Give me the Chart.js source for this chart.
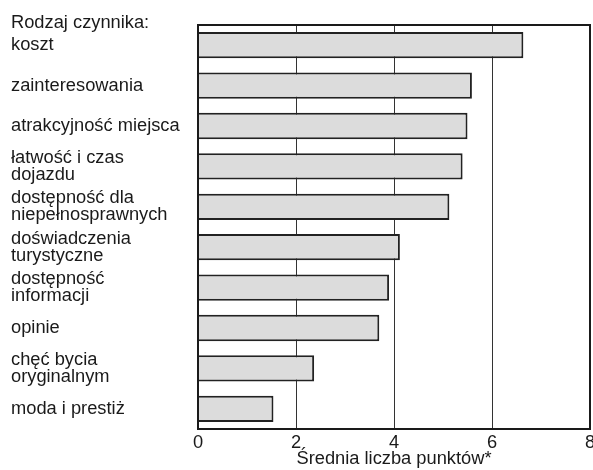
<!DOCTYPE html>
<html>
<head>
<meta charset="utf-8">
<script src="https://cdn.jsdelivr.net/npm/chart.js@4/dist/chart.umd.min.js"></script>
<style>
  html, body { margin: 0; padding: 0; background: #fff; overflow: hidden; }
  #wrap { position: relative; width: 593px; height: 470px; }
</style>
</head>
<body>
<div id="wrap"><canvas id="chart"></canvas></div>
<script>
const categories = [
  'koszt',
  'zainteresowania',
  'atrakcyjność miejsca',
  ['łatwość i czas', 'dojazdu'],
  ['dostępność dla', 'niepełnosprawnych'],
  ['doświadczenia', 'turystyczne'],
  ['dostępność', 'informacji'],
  'opinie',
  ['chęć bycia', 'oryginalnym'],
  'moda i prestiż'
];
const avgPoints = [6.64, 5.59, 5.50, 5.40, 5.13, 4.12, 3.90, 3.70, 2.37, 1.54];
const axisTitle = 'Średnia liczba punktów*';
const headerText = 'Rodzaj czynnika:';

const FONT = '"Liberation Sans", Arial, sans-serif';
const SIZE = 18.3;
const INK = '#1a1a1a';

// box around the plot + the header above the labels
const frame = {
  id: 'frame',
  afterDraw(chart) {
    const { ctx, chartArea } = chart;
    ctx.save();
    ctx.strokeStyle = INK;
    ctx.lineWidth = 2;
    ctx.strokeRect(chartArea.left, chartArea.top, chartArea.right - chartArea.left, chartArea.bottom - chartArea.top);
    ctx.fillStyle = INK;
    ctx.font = SIZE + 'px ' + FONT;
    ctx.textBaseline = 'alphabetic';
    ctx.textAlign = 'left';
    ctx.fillText(headerText, chart.scales.y.left, chartArea.top + 3);
    ctx.restore();
  }
};

new Chart(document.getElementById('chart'), {
  type: 'bar',
  plugins: [frame],
  data: {
    labels: categories,
    datasets: [{
      data: avgPoints,
      backgroundColor: '#dcdcdc',
      borderColor: '#222',
      borderWidth: 2,
      barPercentage: 0.65,
      categoryPercentage: 1
    }]
  },
  options: {
    indexAxis: 'y',
    responsive: true,
    maintainAspectRatio: false,
    animation: false,
    layout: { padding: { left: 11, top: 25, right: 0, bottom: 0 } },
    plugins: {
      legend: { display: false },
      tooltip: { enabled: false }
    },
    scales: {
      x: {
        min: 0,
        max: 8,
        // let the last label "8" run off the right edge like in the original
        afterFit(scale) { scale.paddingRight = 3; },
        ticks: {
          stepSize: 2,
          color: INK,
          padding: 4.35,
          font: { family: FONT, size: SIZE, lineHeight: 1 }
        },
        grid: { color: '#333', lineWidth: 1, drawTicks: false },
        border: { display: true, color: INK, width: 2 },
        title: {
          display: true,
          text: axisTitle,
          color: INK,
          // title sits tight under the tick labels
          padding: { top: -6.3, bottom: 2 },
          font: { family: FONT, size: SIZE, lineHeight: 1 }
        }
      },
      y: {
        afterFit(scale) { scale.width = 187; },
        ticks: {
          autoSkip: false,
          crossAlign: 'far',
          color: INK,
          font: { family: FONT, size: SIZE, lineHeight: 0.92 }
        },
        grid: { display: false },
        border: { display: true, color: INK, width: 2 }
      }
    }
  }
});
</script>
</body>
</html>
